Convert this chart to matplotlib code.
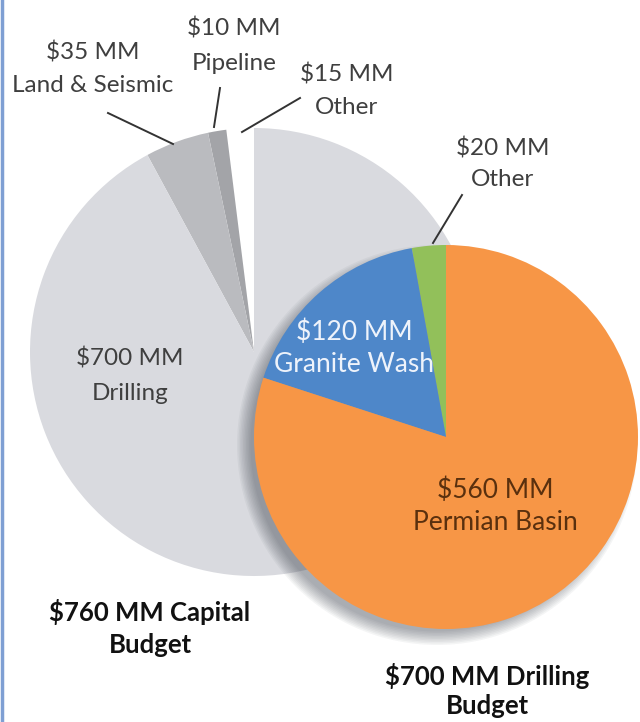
import matplotlib.pyplot as plt
from matplotlib.patches import Circle

plt.rcParams['font.family'] = ['Lato', 'DejaVu Sans']

# capital budget, counterclockwise from 12 o'clock
cap_names = ['Other', 'Pipeline', 'Land & Seismic', 'Drilling']
cap_values = [15, 10, 35, 700]
cap_colors = ['white', '#a3a4a8', '#babbbf', '#d9dadf']

# drilling budget, counterclockwise from 12 o'clock
drill_names = ['Other', 'Granite Wash', 'Permian Basin']
drill_values = [20, 120, 560]
drill_colors = ['#92c05a', '#4e87c9', '#f79646']

W, H = 640, 722


def py(y):
    # picture rows -> data y
    return H - y


fig = plt.figure(figsize=(6.4, 7.22), dpi=100)
ax = fig.add_axes([0, 0, 1, 1])

ax.pie(cap_values, colors=cap_colors, startangle=90, counterclock=True,
       center=(254, py(352)), radius=224,
       wedgeprops=dict(linewidth=0))

# soft shadow under the drilling pie, down and to the left
c2 = (446, py(437))
r2 = 192
for k in range(10):
    ax.add_patch(Circle((c2[0] - 9, c2[1] - 8), r2 + 8 - k * 1.5,
                        color='#3a3f4a', alpha=0.05, lw=0, zorder=2))

wedges, _ = ax.pie(drill_values, colors=drill_colors, startangle=90,
                   counterclock=True, center=c2, radius=r2,
                   wedgeprops=dict(linewidth=0))
for w in wedges:
    w.set_zorder(3)

lab = dict(ha='center', va='center', fontsize=17.5, color='#3f3f3f', zorder=5)

ax.text(93, py(53), '$35 MM', **lab)
ax.text(93, py(85), 'Land & Seismic', **lab)
ax.text(234, py(28), '$10 MM', **lab)
ax.text(234, py(63), 'Pipeline', **lab)
ax.text(347, py(75), '$15 MM', **lab)
ax.text(347, py(108), 'Other', **lab)
ax.text(503, py(148), '$20 MM', **lab)
ax.text(503, py(180), 'Other', **lab)
ax.text(130, py(358), '$700 MM', **lab)
ax.text(130, py(393), 'Drilling', **lab)

inner = dict(lab, fontsize=19)
inner['color'] = '#eef3fb'
ax.text(354, py(332), '$120 MM', **inner)
ax.text(354, py(365), 'Granite Wash', **inner)
inner['color'] = '#5a300e'
ax.text(495, py(490), '$560 MM', **inner)
ax.text(495, py(522), 'Permian Basin', **inner)

big = dict(ha='center', va='center', fontsize=18.5, fontweight='bold',
           color='#111111', zorder=5)
ax.text(150, py(612), '$760 MM Capital', **big)
ax.text(150, py(645), 'Budget', **big)
ax.text(487, py(676), '$700 MM Drilling', **big)
ax.text(487, py(706), 'Budget', **big)

# leader lines
leaders = [
    ((108, 113), (173, 144)),
    ((220, 88), (214, 127)),
    ((300, 98), (242, 132)),
    ((462, 195), (433, 243)),
]
for (x0, y0), (x1, y1) in leaders:
    ax.plot([x0, x1], [py(y0), py(y1)], color='#333333', lw=1.4, zorder=6)

# thin blue frame edge on the left
ax.plot([1.5, 1.5], [0, H], color='#7f9fd3', lw=2.5, zorder=7)

ax.set_xlim(0, W)
ax.set_ylim(0, H)
ax.set_aspect('equal')
ax.axis('off')

fig.savefig('out.png', dpi=100)
